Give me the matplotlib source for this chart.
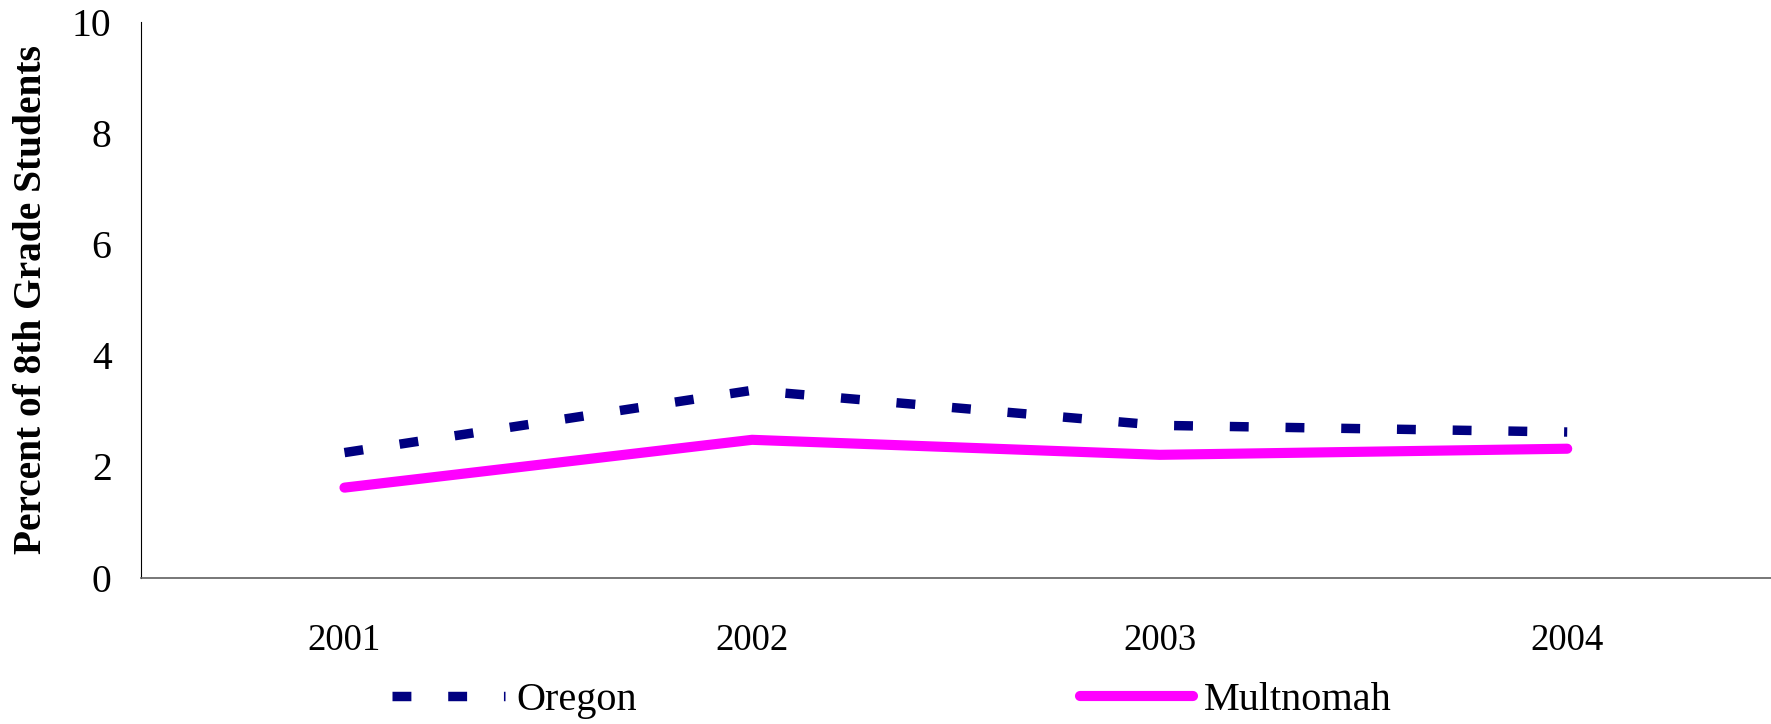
import matplotlib

matplotlib.use("Agg")
import matplotlib.pyplot as plt
from matplotlib.lines import Line2D

years = ["2001", "2002", "2003", "2004"]
oregon = [2.25, 3.37, 2.74, 2.62]
multnomah = [1.62, 2.48, 2.21, 2.32]
y_ticks = [0, 2, 4, 6, 8, 10]

plt.rcParams["font.family"] = ["Liberation Serif", "DejaVu Serif"]

OREGON_STYLE = dict(color="#000080", linewidth=6.8, linestyle=(0, (2.0, 3.9)),
                    dash_capstyle="butt")
MULT_STYLE = dict(color="#FF00FF", linewidth=7.3, solid_capstyle="round",
                  solid_joinstyle="round")

W, H = 1771, 724
fig = plt.figure(figsize=(W / 100, H / 100), dpi=100)
ax = fig.add_axes([140.7 / W, 1 - 577.7 / H, 1 - 140.7 / W, (577.7 - 21.7) / H])

x = [i + 0.5 for i in range(len(years))]
ax.plot(x, oregon, label="Oregon", **OREGON_STYLE)
ax.plot(x, multnomah, label="Multnomah", **MULT_STYLE)

ax.set_xlim(0, len(years))
ax.set_ylim(0, 10)
ax.set_xticks(x)
ax.set_xticklabels(years, fontsize=26.5)
ax.set_yticks(y_ticks)
ax.set_yticklabels([str(t) for t in y_ticks], fontsize=28.5)
ax.tick_params(axis="both", length=0)
ax.tick_params(axis="x", pad=33)
ax.tick_params(axis="y", pad=21)

for side in ("top", "right"):
    ax.spines[side].set_visible(False)
ax.spines["left"].set_color("black")
ax.spines["left"].set_linewidth(0.8)
ax.spines["bottom"].set_color("#606060")
ax.spines["bottom"].set_linewidth(1.2)

ax.set_ylabel("Percent of 8th Grade Students", fontsize=28.4, fontweight="bold",
              labelpad=16)

handles = [Line2D([], [], **OREGON_STYLE), Line2D([], [], **MULT_STYLE)]
fig.legend(handles, ["Oregon", "Multnomah"], loc="center left",
           bbox_to_anchor=(392 / W, 1 - 700 / H), ncol=2, frameon=False,
           fontsize=29, handlelength=2.8, handletextpad=0.28,
           columnspacing=11.0, borderpad=0, borderaxespad=0)

fig.savefig("out.png", dpi=100)
